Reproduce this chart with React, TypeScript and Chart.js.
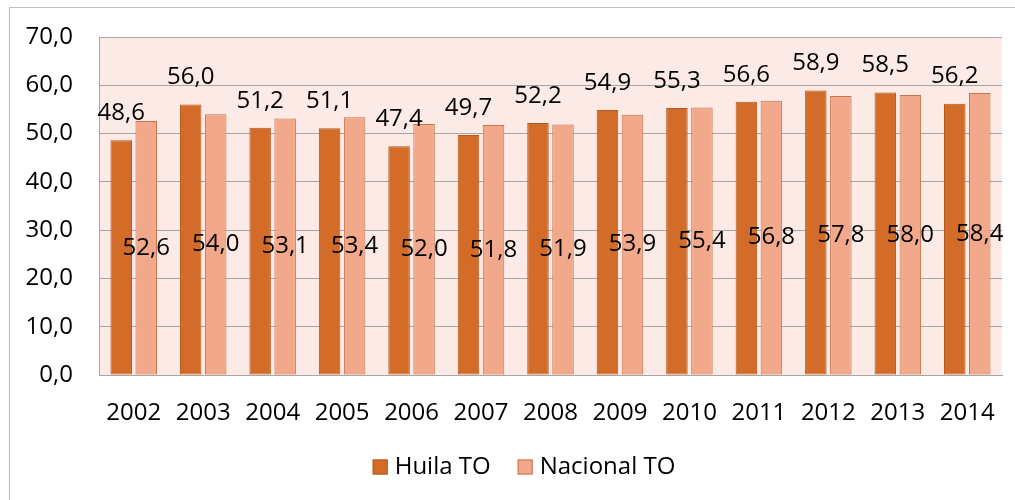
import React, { useEffect, useRef } from "react";
import { Chart, registerables } from "chart.js";

Chart.register(...registerables);

const years = ["2002", "2003", "2004", "2005", "2006", "2007", "2008", "2009", "2010", "2011", "2012", "2013", "2014"];
const huilaTO = [48.6, 56.0, 51.2, 51.1, 47.4, 49.7, 52.2, 54.9, 55.3, 56.6, 58.9, 58.5, 56.2];
const nacionalTO = [52.6, 54.0, 53.1, 53.4, 52.0, 51.8, 51.9, 53.9, 55.4, 56.8, 57.8, 58.0, 58.4];
const seriesNames = ["Huila TO", "Nacional TO"];

const FONT = "'Open Sans', 'Noto Sans', sans-serif";
const FS = 24;
const fmt = (v: number) => v.toFixed(1).replace(".", ",");

const bgPlugin = {
  id: "plotBg",
  beforeDraw(chart: any) {
    const { ctx, chartArea } = chart;
    ctx.save();
    ctx.fillStyle = "#FBEAE5";
    ctx.fillRect(chartArea.left, chartArea.top, chartArea.right - chartArea.left, chartArea.bottom - chartArea.top);
    ctx.restore();
  },
};

const labelPlugin = {
  id: "valueLabels",
  afterDatasetsDraw(chart: any) {
    const { ctx } = chart;
    ctx.save();
    ctx.font = `${FS}px ${FONT}`;
    ctx.fillStyle = "#000";
    ctx.textAlign = "center";
    ctx.textBaseline = "middle";
    chart.data.datasets.forEach((ds: any, di: number) => {
      const meta = chart.getDatasetMeta(di);
      meta.data.forEach((el: any, i: number) => {
        const v = ds.data[i];
        if (di === 0) {
          ctx.fillText(fmt(v), el.x, el.y - 27);
        } else {
          ctx.fillText(fmt(v), el.x, (el.y + el.base) / 2);
        }
      });
    });
    ctx.restore();
  },
};

const legendPlugin = {
  id: "customLegend",
  afterDraw(chart: any) {
    const { ctx } = chart;
    const ds = chart.data.datasets;
    ctx.save();
    ctx.font = `${FS}px ${FONT}`;
    ctx.textBaseline = "middle";
    ctx.textAlign = "left";
    const box = 15, gap = 7, itemGap = 27;
    const widths = ds.map((d: any) => box + gap + ctx.measureText(d.label).width);
    const total = widths.reduce((a: number, b: number) => a + b, 0) + itemGap * (ds.length - 1);
    let x = 524 - total / 2;
    const cy = 467;
    ds.forEach((d: any, i: number) => {
      ctx.fillStyle = d.backgroundColor;
      ctx.fillRect(x, cy - 7.5, box, box);
      ctx.strokeStyle = d.borderColor;
      ctx.lineWidth = 1;
      ctx.strokeRect(x + 0.5, cy - 7, box - 1, box - 1);
      ctx.fillStyle = "#000";
      ctx.fillText(d.label, x + box + gap, cy);
      x += widths[i] + itemGap;
    });
    ctx.restore();
  },
};

export default function App() {
  const ref = useRef<HTMLCanvasElement | null>(null);
  useEffect(() => {
    if (!ref.current) return;
    const chart = new Chart(ref.current, {
      type: "bar",
      data: {
        labels: years,
        datasets: [
          {
            label: seriesNames[0],
            data: huilaTO,
            backgroundColor: "#D26C28",
            borderColor: "#B5591C",
            borderWidth: 1,
            borderSkipped: false,
            categoryPercentage: 0.72,
            barPercentage: 0.86,
          },
          {
            label: seriesNames[1],
            data: nacionalTO,
            backgroundColor: "#F2A88A",
            borderColor: "#C7744B",
            borderWidth: 1,
            borderSkipped: false,
            categoryPercentage: 0.72,
            barPercentage: 0.86,
          },
        ],
      },
      options: {
        animation: false,
        responsive: false,
        maintainAspectRatio: false,
        layout: { padding: { left: 0, top: 37, right: 13, bottom: 65 } },
        plugins: {
          legend: { display: false },
          tooltip: { enabled: false },
        },
        scales: {
          x: {
            grid: { display: false },
            border: { display: true, color: "#A6A6A6" },
            ticks: { font: { family: FONT, size: FS }, color: "#000", padding: 16, maxRotation: 0 },
            afterFit: (s: any) => { s.height = 60; },
          },
          y: {
            min: 0,
            max: 70,
            grid: { color: "#A6A6A6", drawTicks: false },
            border: { display: true, color: "#A6A6A6" },
            ticks: {
              stepSize: 10,
              font: { family: FONT, size: FS },
              color: "#000",
              padding: 26,
              callback: (v: any) => fmt(Number(v)),
            },
            afterFit: (s: any) => { s.width = 99; s.paddingTop = 0; s.paddingBottom = 0; },
          },
        },
      },
      plugins: [bgPlugin, labelPlugin, legendPlugin],
    });
    return () => chart.destroy();
  }, []);
  return (
    <div style={{ position: "fixed", left: 0, top: 0, width: 1015, height: 500, background: "#fff" }}>
      <div style={{ position: "absolute", left: 9, top: 7, width: 1010, height: 500, border: "1px solid #BFBFBF", boxSizing: "border-box" }} />
      <canvas ref={ref} width={1015} height={500} style={{ position: "absolute", left: 0, top: 0 }} />
    </div>
  );
}
